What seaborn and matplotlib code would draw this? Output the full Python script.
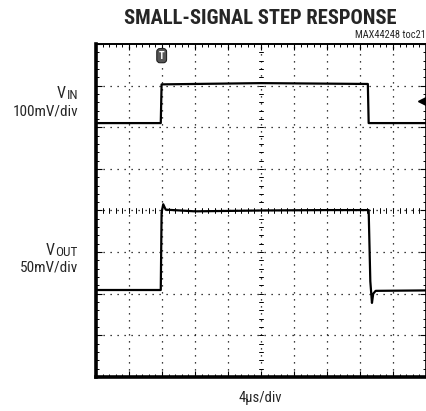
import numpy as np
import matplotlib
matplotlib.use("Agg")
import matplotlib.pyplot as plt
import seaborn as sns
from matplotlib.ticker import MultipleLocator

# ---- data (time in microseconds, amplitude in screen divisions) ----
vin_t = [0.0, 7.85, 7.95, 20.0, 32.95, 33.05, 40.0]
vin_v = [6.10, 6.10, 7.03, 7.06, 7.04, 6.10, 6.10]

vout_t = [0.0, 7.85, 7.95, 8.15, 8.45, 12.0, 20.0, 28.0, 33.05, 33.25, 33.45, 33.6, 33.9, 40.0]
vout_v = [2.09, 2.09, 3.95, 4.15, 4.02, 3.98, 4.00, 4.01, 4.01, 2.30, 1.78, 2.00, 2.07, 2.08]

x_label = "4\u00b5s/div"
title = "SMALL-SIGNAL STEP RESPONSE"
tag = "MAX44248 toc21"
vin_sub = "IN"
vout_sub = "OUT"
vin_scale = "100mV/div"
vout_scale = "50mV/div"

sns.set_style("white")
plt.rcParams["font.family"] = ["Roboto Condensed", "DejaVu Sans"]

W, H = 427, 411
fig = plt.figure(figsize=(W / 100, H / 100), dpi=100)
ax = fig.add_axes([96 / W, (H - 377) / H, 330 / W, 333 / H])
ax.set_xlim(0, 40)
ax.set_ylim(0, 8)

# dotted grid
for gx in range(1, 10):
    ax.axvline(gx * 4, color="black", lw=0.9, ls=(0, (1, 4.6)), zorder=1)
for gy in range(1, 8):
    ax.axhline(gy, color="black", lw=0.9, ls=(0, (1, 4.6)), zorder=1)

# center crosshair tick marks
for k in range(1, 40):
    yy = k * 0.2
    ax.plot([19.75, 20.25], [yy, yy], color="black", lw=0.7, zorder=1)
for k in range(1, 50):
    xx = k * 0.8
    ax.plot([xx, xx], [3.94, 4.06], color="black", lw=0.7, zorder=1)

# traces
sns.lineplot(x=vin_t, y=vin_v, sort=False, estimator=None, color="black", lw=1.6, ax=ax, zorder=3)
sns.lineplot(x=vout_t, y=vout_v, sort=False, estimator=None, color="black", lw=1.6, ax=ax, zorder=3)

# frame
for side, lw in [("left", 2.6), ("bottom", 2.6), ("top", 1.4), ("right", 1.2)]:
    ax.spines[side].set_visible(True)
    ax.spines[side].set_linewidth(lw)
    ax.spines[side].set_color("black")

ax.xaxis.set_major_locator(MultipleLocator(4))
ax.xaxis.set_minor_locator(MultipleLocator(0.8))
ax.yaxis.set_major_locator(MultipleLocator(1))
ax.yaxis.set_minor_locator(MultipleLocator(0.2))
ax.tick_params(which="both", direction="in", top=True, right=True, bottom=True, left=True,
               labelbottom=False, labelleft=False, color="black")
ax.tick_params(which="major", length=4, width=0.8)
ax.tick_params(which="minor", length=2, width=0.7)
ax.set_xlabel("")
ax.set_ylabel("")

# trigger marker
ax.text(7.96, 7.72, "T", ha="center", va="center", fontsize=7.5, color="white", fontweight="bold",
        bbox=dict(boxstyle="round,pad=0.2,rounding_size=0.3", fc="#555555", ec="#222222", lw=0.8),
        zorder=5)
# ground-level arrow at right
ax.plot([39.55], [6.62], marker="<", color="black", ms=6, zorder=5)
ax.plot([39.55, 40], [6.62, 6.62], color="black", lw=1.5, zorder=5)

# texts
fig.text(260 / W, 1 - 18 / H, title, ha="center", va="center", fontsize=14.8, fontweight="bold")
fig.text(426 / W, 1 - 34.5 / H, tag, ha="right", va="center", fontsize=7.5)
fig.text(260 / W, 1 - 398 / H, x_label, ha="center", va="center", fontsize=10.5)

fig.text(78 / W, 1 - 116 / H, vin_scale, ha="right", va="baseline", fontsize=11)
fig.text(78 / W, 1 - 272 / H, vout_scale, ha="right", va="baseline", fontsize=11)

renderer = fig.canvas.get_renderer()
for sub, base in [(vin_sub, 98), (vout_sub, 255)]:
    s = fig.text(78 / W, 1 - (base + 1) / H, sub, ha="right", va="baseline", fontsize=9.5)
    bb = s.get_window_extent(renderer=renderer)
    fig.text((bb.x0 - 0.5) / W, 1 - base / H, "V", ha="right", va="baseline", fontsize=11.5)

fig.savefig("out.png", dpi=100)
